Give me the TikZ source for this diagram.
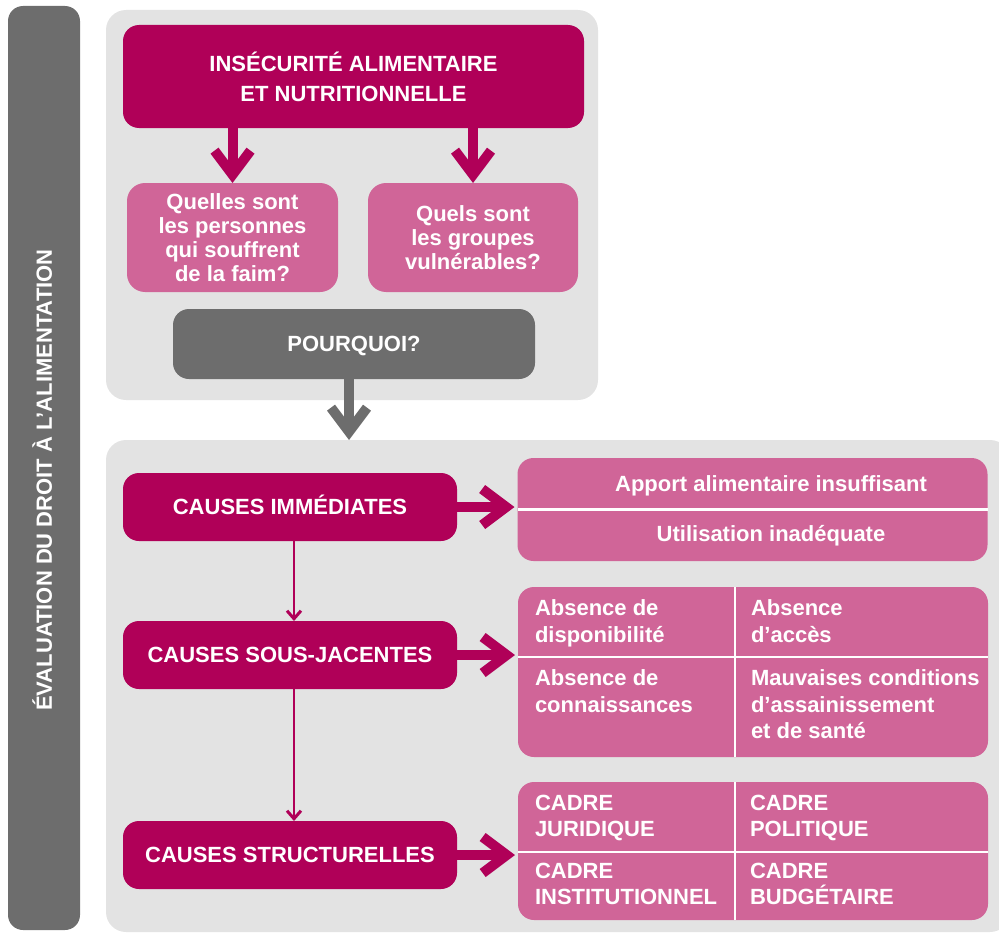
\documentclass[tikz,border=0pt]{standalone}
\usepackage{fontspec}
\setmainfont{Liberation Sans}
\usetikzlibrary{arrows.meta}
\definecolor{magentaDark}{RGB}{176,0,88}
\definecolor{pinkMid}{RGB}{208,101,152}
\definecolor{grayDark}{RGB}{109,109,109}
\definecolor{grayPanel}{RGB}{227,227,227}

\begin{document}
\begin{tikzpicture}[x=1pt, y=-1pt, inner sep=0pt, outer sep=0pt, text=white,
        font=\bfseries\fontsize{22}{24}\selectfont]
        % Define block styles
        \tikzstyle{panel} = [rectangle, rounded corners=20pt, fill=grayPanel]
        \tikzstyle{mainBox} = [rectangle, rounded corners=16pt, fill=magentaDark, align=center]
        \tikzstyle{question} = [rectangle, rounded corners=18pt, fill=pinkMid, align=center, minimum width=211pt, minimum height=109pt]
        \tikzstyle{cause} = [mainBox, minimum width=334pt, minimum height=68pt, text height=15.8pt, text depth=0pt]
        \tikzstyle{group} = [rectangle, rounded corners=16pt, fill=pinkMid, minimum width=470pt]
        \tikzstyle{item} = [anchor=north west, align=left, font=\bfseries\fontsize{22}{26.5}\selectfont]
        \tikzstyle{divider} = [white, line width=2.5pt]
        \tikzstyle{bigArrow} = [line width=10pt, -{Straight Barb[sharp, length=24pt, width=36pt]}]
        \tikzstyle{thinArrow} = [magentaDark, line width=2pt, -{Straight Barb[sharp, length=8pt, width=14pt, line width=3pt]}]

        \useasboundingbox (0,0) rectangle (999,934);
        \clip (0,0) rectangle (999,934);

        % Panels
        \node[panel, minimum width=492pt, minimum height=390pt] (upper) at (352,205) {};
        \node[panel, minimum width=904pt, minimum height=492pt] (lower) at (558,686) {};
        \node[rectangle, rounded corners=15pt, fill=grayDark, minimum width=72pt, minimum height=924pt] (side) at (44,468) {};
        \node[rotate=90, text height=15.8pt, text depth=0pt] (sideLabel) at (44,480) {ÉVALUATION DU DROIT À L’ALIMENTATION};

        % Nodes
        \node[mainBox, minimum width=461pt, minimum height=103pt, font=\bfseries\fontsize{22}{30}\selectfont] (top) at (353.5,76.5) {INSÉCURITÉ ALIMENTAIRE\\ET NUTRITIONNELLE};
        \node[question] (q1) at (232.5,237.5) {Quelles sont\\les personnes\\qui souffrent\\de la faim?};
        \node[question, minimum width=210pt] (q2) at (473,237.5) {Quels sont\\les groupes\\vulnérables?};
        \node[cause, fill=grayDark, minimum width=362pt, minimum height=70pt] (why) at (354,344) {POURQUOI?};

        \node[cause] (imm) at (290,507) {CAUSES IMMÉDIATES};
        \node[cause] (sous) at (290,655) {CAUSES SOUS-JACENTES};
        \node[cause] (struct) at (290,855) {CAUSES STRUCTURELLES};

        \node[group, minimum height=103pt] (g1) at (752.5,509.5) {};
        \node[group, minimum height=170pt] (g2) at (753,672) {};
        \node[group, minimum height=138pt] (g3) at (753,851) {};

        % Dividers
        \draw[divider] (g1.west) -- (g1.east);
        \draw[divider] (518,657) -- (988,657);
        \draw[divider] (735,587) -- (735,757);
        \draw[divider] (518,852) -- (988,852);
        \draw[divider] (735,782) -- (735,920);

        % Items
        \node[anchor=base] (apport) at (771,491) {Apport alimentaire insuffisant};
        \node[anchor=base] (utilisation) at (771,541) {Utilisation inadéquate};
        \node[item] (dispo) at (535,600) {Absence de\\disponibilité};
        \node[item] (acces) at (751,600) {Absence\\d’accès};
        \node[item] (savoir) at (535,670) {Absence de\\connaissances};
        \node[item] (sante) at (751,670) {Mauvaises conditions\\d’assainissement\\et de santé};
        \node[item] (juridique) at (535,795) {CADRE\\JURIDIQUE};
        \node[item] (politique) at (750,795) {CADRE\\POLITIQUE};
        \node[item] (institution) at (535,863) {CADRE\\INSTITUTIONNEL};
        \node[item] (budget) at (750,863) {CADRE\\BUDGÉTAIRE};

        % Arrows
        \draw[bigArrow, magentaDark] (q1.north |- top.south) -- (q1.north);
        \draw[bigArrow, magentaDark] (q2.north |- top.south) -- (q2.north);
        \draw[bigArrow, grayDark] ([xshift=-5pt]why.south) -- ([xshift=-5pt]why.south |- lower.north);
        \draw[bigArrow, magentaDark, shorten >=3pt] (imm.east) -- (imm.east -| g1.west);
        \draw[bigArrow, magentaDark, shorten >=3pt] (sous.east) -- (sous.east -| g2.west);
        \draw[bigArrow, magentaDark, shorten >=3pt] (struct.east) -- (struct.east -| g3.west);
        \draw[thinArrow] ([xshift=4pt]imm.south) -- ([xshift=4pt]sous.north);
        \draw[thinArrow] ([xshift=4pt]sous.south) -- ([xshift=4pt]struct.north);

    \end{tikzpicture}
\end{document}
